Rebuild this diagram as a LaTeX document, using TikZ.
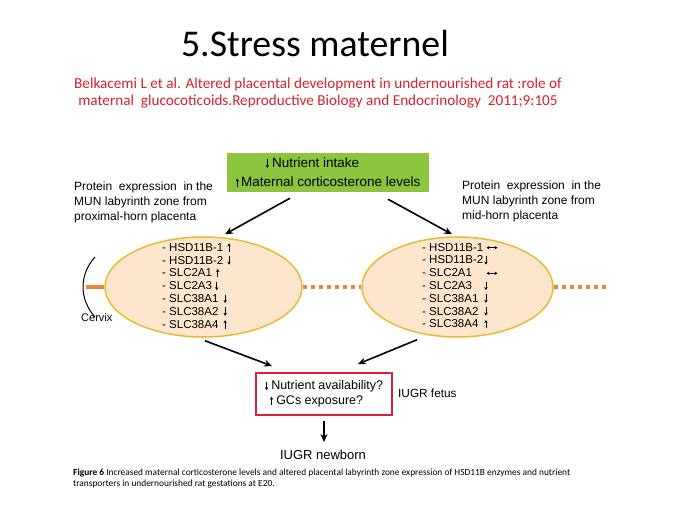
\documentclass[tikz,border=0pt]{standalone}
\usepackage{fontspec}
\usepackage{graphicx}
\setmainfont{Carlito}
\newfontfamily\arialf{Liberation Sans}
\usetikzlibrary{arrows.meta,calc,shapes.geometric}
\definecolor{citred}{RGB}{215,35,40}
\definecolor{boxgreen}{RGB}{140,198,63}
\definecolor{ellfill}{RGB}{252,230,205}
\definecolor{elldraw}{RGB}{235,185,50}
\definecolor{orangeline}{RGB}{232,135,65}
\definecolor{boxred}{RGB}{215,35,50}
\newcommand{\ua}{\tikz[baseline=0pt]\draw[draw=black,line width=0.7pt,-{Stealth[length=3pt,width=3.4pt]}](0,-0.5pt)--(0,8pt);}
\newcommand{\da}{\tikz[baseline=0pt]\draw[draw=black,line width=0.7pt,-{Stealth[length=3pt,width=3.4pt]}](0,8pt)--(0,-0.5pt);}
\newcommand{\lra}{\tikz[baseline=0pt]\draw[draw=black,line width=0.7pt,{Stealth[length=3pt,width=3.4pt]}-{Stealth[length=3pt,width=3.4pt]}](0,3.5pt)--(11pt,3.5pt);}
\begin{document}
\begin{tikzpicture}[x=1pt,y=-1pt,
  every node/.style={inner sep=0pt},
  arialtxt/.style={font=\arialf\fontsize{12}{15}\selectfont, align=left},
  genes/.style={font=\arialf\fontsize{11.5}{12.8}\selectfont, align=left, anchor=west},
  placenta/.style={ellipse, draw=elldraw, fill=ellfill, line width=1.5pt, minimum height=100pt},
  arr/.style={line width=1.6pt, -{Stealth[length=8pt,width=7pt]}},
  horn/.style={draw=orangeline, line width=4pt},
  hornd/.style={horn, dash pattern=on 4pt off 4pt}]
\useasboundingbox (0,0) rectangle (689,517);
\fill[white] (0,0) rectangle (689,517);

% title and citation
\node[font=\fontsize{37.8}{40}\selectfont] (title) at (315,44) {5.Stress maternel};
\node[font=\fontsize{15.2}{17}\selectfont, text=citred, align=center] (cite) at (318,93.5)
  {Belkacemi L et al. Altered placental development in undernourished rat :role of\\
   maternal\ \ glucocoticoids.Reproductive Biology and Endocrinology\ \ 2011;9:105};

% green box
\node[fill=boxgreen, minimum width=202pt, minimum height=39pt, align=left,
      font=\arialf\fontsize{13.5}{19}\selectfont] (intake) at (328,172.5)
  {\hspace*{30pt}\da\hspace{3pt}Nutrient intake\\\ua\hspace{2pt}Maternal corticosterone levels};

% side texts
\node[arialtxt, anchor=west] (ptl) at (74,202) {Protein\ \ expression\ \ in the\\MUN labyrinth zone from\\proximal-horn placenta};
\node[arialtxt, anchor=west] (ptr) at (462,201.5) {Protein\ \ expression\ \ in the\\MUN labyrinth zone from\\mid-horn placenta};

% horn lines
\coordinate (hornL) at (86,287);
\coordinate (hornR) at (607,287);

% placentas
\node[placenta, minimum width=197pt] (L) at (203.5,287) {};
\node[placenta, minimum width=191pt] (R) at (457.5,287) {};

\draw[horn] (hornL) -- (L.west);
\draw[hornd] (L.east) -- (R.west);
\draw[hornd] (R.east) -- (hornR);

% cervix
\draw[line width=1pt] (95,257) .. controls (79,275) and (79,299) .. (95,317);
\node[font=\arialf\fontsize{11}{13}\selectfont, anchor=west] (cervix) at (81,318) {Cervix};

% gene lists
\node[genes] (gl) at (162,286)
 {- HSD11B-1\hspace{4pt}\ua\\
  - HSD11B-2\hspace{4pt}\da\\
  - SLC2A1\hspace{4pt}\ua\\
  - SLC2A3\hspace{3pt}\da\\
  - SLC38A1\hspace{5pt}\da\\
  - SLC38A2\hspace{5pt}\da\\
  - SLC38A4\hspace{5pt}\ua};
\node[genes] (gr) at (422,286)
 {\makebox[64pt][l]{- HSD11B-1}\lra\\
  \makebox[62pt][l]{- HSD11B-2}\da\\
  \makebox[64pt][l]{- SLC2A1}\lra\\
  \makebox[62pt][l]{- SLC2A3}\da\\
  \makebox[62pt][l]{- SLC38A1}\da\\
  \makebox[62pt][l]{- SLC38A2}\da\\
  \makebox[62pt][l]{- SLC38A4}\ua};

% red box
\node[draw=boxred, line width=2pt, minimum width=136pt, minimum height=42pt, align=left,
      font=\arialf\fontsize{12.5}{15}\selectfont] (avail) at (324,394)
  {\da\hspace{3pt}Nutrient availability?\\\hspace*{5pt}\ua\hspace{3pt}GCs exposure?};
\node[font=\arialf\fontsize{11.8}{14}\selectfont, anchor=west] (fetus) at (398,393) {IUGR fetus};
\node[font=\arialf\fontsize{13}{15}\selectfont] (newborn) at (323,455) {IUGR newborn};

% arrows
\draw[arr] ($(intake.south)+(-38,6)$) -- ($(L.north)+(21.5,-2)$);
\draw[arr] ($(intake.south)+(60,7)$) -- ($(R.north)+(-5.5,-2)$);
\draw[arr] ($(L.south)+(1.5,3)$) -- ($(avail.north)+(-52,-6)$);
\draw[arr] ($(R.south)+(-40.5,2)$) -- ($(avail.north)+(34,-8)$);
\draw[arr] ($(avail.south)+(0,5)$) -- ($(newborn.north)+(1,-8)$);

% caption
\node[anchor=north west] (cap) at (73,468)
  {\resizebox{497pt}{!}{\fontsize{9}{10.5}\selectfont\begin{tabular}{@{}l@{}}
   \textbf{Figure 6} Increased maternal corticosterone levels and altered placental labyrinth zone expression of HSD11B enzymes and nutrient\\
   transporters in undernourished rat gestations at E20.\end{tabular}}};
\end{tikzpicture}
\end{document}
